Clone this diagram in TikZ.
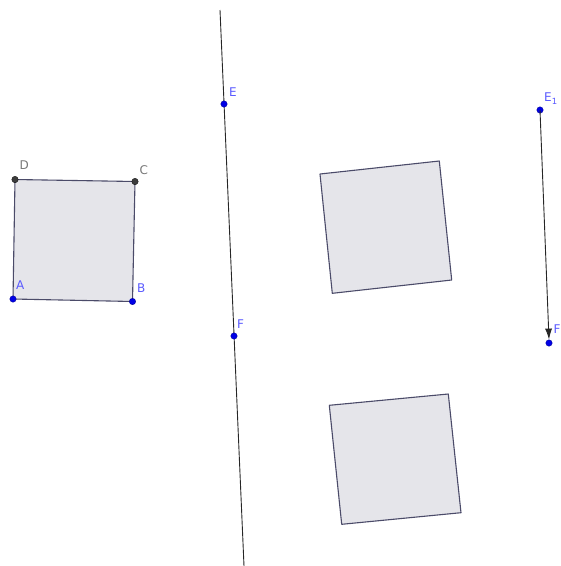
\documentclass[tikz,border=0pt]{standalone}
\usepackage{fontspec}
\setmainfont{DejaVu Sans}
\usetikzlibrary{arrows.meta}
\definecolor{ptblue}{RGB}{0,0,230}
\definecolor{lblblue}{RGB}{90,90,255}
\definecolor{lblgray}{RGB}{120,120,120}
\definecolor{ptgray}{RGB}{60,60,60}
\definecolor{sqfill}{RGB}{229,229,234}
\definecolor{sqedge}{RGB}{75,75,105}
\newcommand{\lowone}{\raisebox{-3pt}{\fontsize{8.5}{8.5}\selectfont 1}}
\tikzset{
  sq/.style={draw=sqedge, fill=sqfill, line width=1.1pt, line join=round},
  bpt/.style={circle, fill=ptblue, draw=ptblue!60!black, line width=0.3pt, inner sep=0pt, minimum size=6.5pt},
  gpt/.style={circle, fill=ptgray, draw=black, line width=0.3pt, inner sep=0pt, minimum size=6.5pt},
  blbl/.style={text=lblblue, font=\fontsize{12}{12}\selectfont, inner sep=0pt, anchor=west},
  glbl/.style={text=lblgray, font=\fontsize{12}{12}\selectfont, inner sep=0pt, anchor=west},
  ln/.style={draw=black!85, line width=0.9pt}
}
\begin{document}
\begin{tikzpicture}[x=1pt,y=-1pt]
\useasboundingbox (0,0) rectangle (561,566);
\clip (0,0) rectangle (561,566);
% squares
\draw[sq] (13,299) -- (132.5,301.5) -- (135,181.5) -- (15,179.5) -- cycle;
\draw[sq] (320,174) -- (439.3,161) -- (451.7,280) -- (332.3,293.3) -- cycle;
\draw[sq] (329.3,405.3) -- (448.3,394) -- (461,512.7) -- (341.7,524.3) -- cycle;
% line through E and F
\coordinate (Ltop) at (220,10);
\coordinate (Lbot) at (244,566);
\draw[ln] (Ltop) -- (Lbot);
% points
\node[bpt] (A) at (13,299) {};
\node[bpt] (B) at (132.5,301.5) {};
\node[gpt] (C) at (135,181.5) {};
\node[gpt] (D) at (15,179.5) {};
\node[bpt] (E) at (224,104) {};
\node[bpt] (F) at (234,336) {};
\node[bpt] (E1) at (540,110) {};
\node[bpt] (F1) at (549,343) {};
\draw[ln, -{Latex[length=11pt,width=7pt]}] (E1.center) -- (F1.north);
% labels
\node[glbl] at (19.5,165.5) {D};
\node[glbl] at (139.5,170.5) {C};
\node[blbl] at (16,285.5) {A};
\node[blbl] at (137,288.5) {B};
\node[blbl] at (229,92) {E};
\node[blbl] at (237,324) {F};
\node[blbl] at (544,99) {E\lowone};
\node[blbl] at (553.5,331) {F\lowone};
\end{tikzpicture}
\end{document}
